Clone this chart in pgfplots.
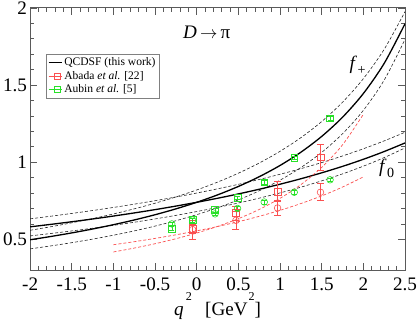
\documentclass[border=0pt]{standalone}
\usepackage{pgfplots}
\pgfplotsset{compat=1.18}
\usepackage{fontspec}
\setmainfont{Liberation Serif}
\definecolor{myred}{RGB}{250,80,80}
\definecolor{mygreen}{RGB}{40,225,40}
\definecolor{axgray}{RGB}{90,90,90}
\pgfplotsset{
  lineleg/.style={legend image code/.code={\path (0pt,0pt)--(13pt,0pt);\draw[##1] (0.5pt,0pt)--(9.5pt,0pt);}},
  markleg/.style={legend image code/.code={\path (0pt,0pt)--(13pt,0pt);\draw[##1] plot coordinates {(8.5pt,0pt)};}},
}
\begin{document}
\begin{tikzpicture}
\begin{axis}[
  scale only axis, width=373pt, height=261pt,
  xmin=-2, xmax=2.5, ymin=0.3, ymax=2,
  xtick={-2,-1.5,-1,-0.5,0,0.5,1,1.5,2,2.5},
  xticklabels={-2,-1.5,-1,-0.5,0,0.5,1,1.5,2,2.5},
  ytick={0.5,1,1.5,2}, yticklabels={0.5,1,1.5,2},
  minor x tick num=4, minor y tick num=4,
  tick align=inside, major tick length=7pt, minor tick length=4pt,
  tick label style={font=\fontsize{19}{21}\selectfont},
  yticklabel style={inner xsep=3pt, inner ysep=1.5pt},
  xticklabel style={inner sep=0pt, yshift=-7pt},
  axis line style={axgray, line width=0.8pt},
  every tick/.style={axgray, line width=0.6pt},
  xlabel={\textit{q}\kern2pt\raisebox{15pt}{\fontsize{12}{12}\selectfont 2}\hspace{0.7em}[GeV\kern1pt\raisebox{15pt}{\fontsize{12}{12}\selectfont 2}]},
  xlabel style={font=\fontsize{19}{21}\selectfont, at={(axis description cs:0.5,0)}, anchor=base, yshift=-45pt, inner sep=0pt},
  legend style={at={(0.043,0.824)}, anchor=north west, draw=gray, line width=0.6pt,
     font=\fontsize{11.5}{13}\selectfont, inner sep=1.5pt, row sep=0pt},
  legend cell align=left,
]
\addlegendimage{black, line width=1.2pt, lineleg}
\addlegendentry{QCDSF (this work)}
\addlegendimage{only marks, mark=square, myred, mark size=3pt, mark options={line width=0.6pt}, markleg}
\addlegendentry{Abada \textit{et al.} [22]}
\addlegendimage{only marks, mark=square, mygreen, mark size=3pt, mark options={line width=0.6pt}, markleg}
\addlegendentry{Aubin \textit{et al.} [5]}

% f+ bands
\addplot[forget plot, smooth, black!85, line width=0.6pt, dash pattern=on 3pt off 2pt] coordinates {
(-2,0.5586) (-1.75,0.5818) (-1.5,0.6070) (-1.25,0.6344) (-1,0.6645) (-0.75,0.6976) (-0.5,0.7341) (-0.25,0.7747) (0,0.82) (0.25,0.8709) (0.5,0.9287) (0.75,0.9945) (1,1.0705) (1.25,1.1590) (1.5,1.2635) (1.75,1.3886) (2,1.5414) (2.25,1.7318) (2.5,1.9759)};
\addplot[forget plot, smooth, black!85, line width=0.6pt, dash pattern=on 3pt off 2pt] coordinates {
(-2,0.4382) (-1.75,0.4575) (-1.5,0.4784) (-1.25,0.5014) (-1,0.5267) (-0.75,0.5547) (-0.5,0.5859) (-0.25,0.6207) (0,0.66) (0.25,0.7046) (0.5,0.7556) (0.75,0.8146) (1,0.8835) (1.25,0.9653) (1.5,1.0637) (1.75,1.1844) (2,1.3360) (2.25,1.5322) (2.5,1.7959)};
% f0 bands
\addplot[forget plot, smooth, black!85, line width=0.6pt, dash pattern=on 3pt off 2pt] coordinates {
(-2,0.6329) (-1.75,0.6499) (-1.5,0.6678) (-1.25,0.6867) (-1,0.7067) (-0.75,0.7279) (-0.5,0.7505) (-0.25,0.7744) (0,0.80) (0.25,0.8273) (0.5,0.8565) (0.75,0.8879) (1,0.9217) (1.25,0.9581) (1.5,0.9975) (1.75,1.0403) (2,1.0870) (2.25,1.1380) (2.5,1.1940)};
\addplot[forget plot, smooth, black!85, line width=0.6pt, dash pattern=on 3pt off 2pt] coordinates {
(-2,0.5223) (-1.75,0.5379) (-1.5,0.5544) (-1.25,0.5720) (-1,0.5908) (-0.75,0.6108) (-0.5,0.6323) (-0.25,0.6553) (0,0.68) (0.25,0.7067) (0.5,0.7355) (0.75,0.7668) (1,0.8009) (1.25,0.8382) (1.5,0.8791) (1.75,0.9242) (2,0.9742) (2.25,1.0299) (2.5,1.0924)};
% central curves
\addplot[forget plot, smooth, black, line width=1.3pt] coordinates {
(-2,0.4973) (-1.75,0.5186) (-1.5,0.5417) (-1.25,0.5670) (-1,0.5949) (-0.75,0.6255) (-0.5,0.6595) (-0.25,0.6975) (0,0.74) (0.25,0.7881) (0.5,0.8428) (0.75,0.9058) (1,0.9788) (1.25,1.0647) (1.5,1.1672) (1.75,1.2914) (2,1.4453) (2.25,1.6408) (2.5,1.8974)};
\addplot[forget plot, smooth, black, line width=1.3pt] coordinates {
(-2,0.5810) (-1.75,0.5971) (-1.5,0.6140) (-1.25,0.6319) (-1,0.6510) (-0.75,0.6711) (-0.5,0.6926) (-0.25,0.7155) (0,0.74) (0.25,0.7662) (0.5,0.7943) (0.75,0.8246) (1,0.8573) (1.25,0.8926) (1.5,0.9311) (1.75,0.9729) (2,1.0187) (2.25,1.0691) (2.5,1.1246)};
% Abada fits
\addplot[forget plot, smooth, myred, line width=0.7pt, dash pattern=on 3pt off 2pt] coordinates {
(-1,0.4182) (-0.75,0.4434) (-0.5,0.4717) (-0.25,0.5040) (0,0.541) (0.25,0.5839) (0.5,0.6341) (0.75,0.6938) (1,0.7659) (1.25,0.8547) (1.5,0.9668) (1.75,1.1127) (2,1.3106)};
\addplot[forget plot, smooth, myred, line width=0.7pt, dash pattern=on 3pt off 2pt] coordinates {
(-1,0.4651) (-0.75,0.4847) (-0.5,0.5061) (-0.25,0.5294) (0,0.555) (0.25,0.5832) (0.5,0.6144) (0.75,0.6492) (1,0.6881) (1.25,0.7319) (1.5,0.7818) (1.75,0.8389) (2,0.9051)};
% Abada data
\addplot[forget plot, only marks, mark=square, myred, mark size=3.3pt, mark options={line width=0.6pt},
  error bars/.cd, y dir=both, y explicit, error bar style={myred, line width=0.6pt},
  error mark options={rotate=90, mark size=3.5pt, myred, line width=0.6pt}] coordinates {
(-0.05,0.568) +- (0,0.03) (0.47,0.671) +- (0,0.045) (0.97,0.81) +- (0,0.065) (1.485,1.032) +- (0,0.085)};
\addplot[forget plot, only marks, mark=o, myred, mark size=3.3pt, mark options={line width=0.6pt},
  error bars/.cd, y dir=both, y explicit, error bar style={myred, line width=0.6pt},
  error mark options={rotate=90, mark size=3.5pt, myred, line width=0.6pt}] coordinates {
(-0.05,0.563) +- (0,0.06) (0.47,0.623) +- (0,0.06) (0.97,0.703) +- (0,0.05) (1.485,0.805) +- (0,0.055)};
% Aubin data
\addplot[forget plot, only marks, mark=square, mygreen, mark size=3.3pt, mark options={line width=0.6pt},
  error bars/.cd, y dir=both, y explicit, error bar style={mygreen, line width=0.5pt},
  error mark options={rotate=90, mark size=2.5pt, mygreen, line width=0.5pt}] coordinates {
(-0.30,0.57) +- (0,0.012) (-0.05,0.625) +- (0,0.012) (0.22,0.69) +- (0,0.012) (0.49,0.77) +- (0,0.012) (0.81,0.87) +- (0,0.012) (1.17,1.028) +- (0,0.012) (1.60,1.284) +- (0,0.012)};
\addplot[forget plot, only marks, mark=o, mygreen, mark size=3.3pt, mark options={line width=0.6pt},
  error bars/.cd, y dir=both, y explicit, error bar style={mygreen, line width=0.5pt},
  error mark options={rotate=90, mark size=2.5pt, mygreen, line width=0.5pt}] coordinates {
(-0.30,0.60) +- (0,0.012) (-0.05,0.625) +- (0,0.012) (0.22,0.665) +- (0,0.012) (0.49,0.70) +- (0,0.012) (0.81,0.742) +- (0,0.012) (1.17,0.805) +- (0,0.012) (1.60,0.886) +- (0,0.012)};

\node[font=\fontsize{19}{21}\selectfont] at (axis cs:0.12,1.84) {\textit{D}\,$\rightarrow$\,π};
\node[font=\fontsize{19}{21}\selectfont] at (axis cs:1.93,1.63) {\textit{f}\kern0.5pt\raisebox{-5pt}{\fontsize{14}{14}\selectfont +}};
\node[font=\fontsize{19}{21}\selectfont] at (axis cs:2.28,0.96) {\textit{f}\kern0.5pt\raisebox{-5pt}{\fontsize{14}{14}\selectfont 0}};
\end{axis}
\end{tikzpicture}
\end{document}
